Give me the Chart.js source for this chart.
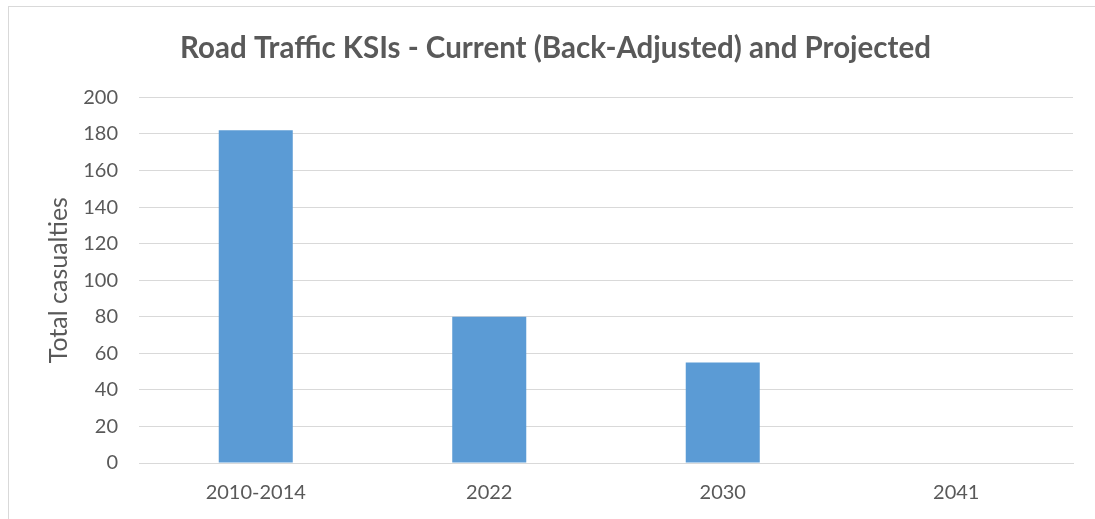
<!DOCTYPE html>
<html>
<head>
<meta charset="utf-8">
<script src="https://cdn.jsdelivr.net/npm/chart.js@4"></script>
<style>
    html, body { margin: 0; padding: 0; background: #fff; overflow: hidden; }
    #frame {
        position: absolute; left: 8px; top: 6px; width: 1200px; height: 600px;
        border-left: 1px solid #d9d9d9; border-top: 1px solid #d9d9d9;
    }
    #wrap { position: absolute; left: 0; top: 0; width: 1095px; height: 519px; }
</style>
</head>
<body>
<div id="frame"></div>
<div id="wrap"><canvas id="barChart"></canvas></div>
<script>
const categories = ["2010-2014", "2022", "2030", "2041"];
const casualties = [182, 80, 55, 0];
const yTicks = [0, 20, 40, 60, 80, 100, 120, 140, 160, 180, 200];

const textColor = "#595959";
const fontFamily = "Lato, 'Open Sans', sans-serif";

new Chart(document.getElementById("barChart"), {
    type: "bar",
    data: {
        labels: categories,
        datasets: [{
            label: "Total casualties",
            data: casualties,
            backgroundColor: "#5b9bd5",
            categoryPercentage: 1,
            barPercentage: 0.317
        }]
    },
    options: {
        responsive: true,
        maintainAspectRatio: false,
        animation: false,
        // left padding keeps the title centred where the reference has it
        layout: { padding: { left: 38, right: 22, top: 0, bottom: 0 } },
        scales: {
            y: {
                min: 0,
                max: 200,
                afterBuildTicks: axis => { axis.ticks = yTicks.map(v => ({ value: v })); },
                afterFit: axis => { axis.width = 101; },
                ticks: {
                    color: textColor,
                    font: { family: fontFamily, size: 20 },
                    padding: 21
                },
                grid: { color: "#d9d9d9", lineWidth: 1, drawTicks: false },
                border: { display: false },
                title: {
                    display: true,
                    text: "Total casualties",
                    color: textColor,
                    font: { family: fontFamily, size: 25 },
                    padding: { top: 6, bottom: 0 }
                }
            },
            x: {
                afterFit: axis => { axis.height = 56; },
                ticks: {
                    color: textColor,
                    font: { family: fontFamily, size: 20 },
                    padding: 18
                },
                grid: { display: false, drawTicks: false },
                border: { display: true, color: "#d9d9d9" }
            }
        },
        plugins: {
            legend: { display: false },
            tooltip: { enabled: false },
            title: {
                display: true,
                text: "Road Traffic KSIs - Current (Back-Adjusted) and Projected",
                color: textColor,
                font: { family: fontFamily, size: 29.5, weight: "bold" },
                padding: { top: 31, bottom: 31 }
            }
        }
    }
});
</script>
</body>
</html>
